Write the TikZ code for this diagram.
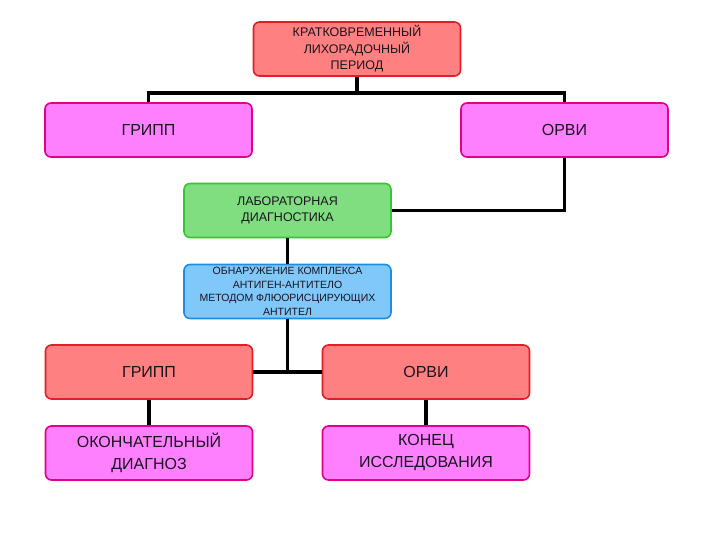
\documentclass[tikz,border=0pt]{standalone}
\usepackage{fontspec}
\setmainfont{Liberation Sans}
\usetikzlibrary{positioning}
\definecolor{salmon}{RGB}{255,128,128}
\definecolor{scarlet}{RGB}{225,30,40}
\definecolor{orchid}{RGB}{255,128,255}
\definecolor{rose}{RGB}{225,0,135}
\definecolor{mint}{RGB}{128,222,128}
\definecolor{grass}{RGB}{50,200,50}
\definecolor{sky}{RGB}{128,200,250}
\definecolor{azure}{RGB}{30,140,225}
\definecolor{ink}{RGB}{25,20,30}
\tikzset{
  box/.style={draw=#1,line width=1.6pt,rounded corners=6pt,
    minimum width=207pt,minimum height=54pt,align=center,text=ink,inner sep=2pt},
  redbox/.style={box=scarlet,fill=salmon},
  pinkbox/.style={box=rose,fill=orchid},
  greenbox/.style={box=grass,fill=mint},
  bluebox/.style={box=azure,fill=sky},
  big/.style={font=\fontsize{16}{22}\selectfont},
  mid/.style={font=\fontsize{12.5}{16.5}\selectfont},
  small/.style={font=\fontsize{10.5}{13.5}\selectfont},
  link/.style={line width=3.2pt,black},
}

\begin{document}
\begin{tikzpicture}[x=1pt,y=-1pt]
  \useasboundingbox (0,0) rectangle (720,540);
  \coordinate (split) at (357,93);
  \coordinate (join) at (287.5,372);
  \node[redbox,mid] (period) at (357,49) {КРАТКОВРЕМЕННЫЙ\\ЛИХОРАДОЧНЫЙ\\ПЕРИОД};
  \node[pinkbox,big] (flu) at (148.5,130) {ГРИПП};
  \node[pinkbox,big] (arvi) at (564.5,130) {ОРВИ};
  \node[greenbox,mid] (lab) at (287.5,210.5) {ЛАБОРАТОРНАЯ\\ДИАГНОСТИКА};
  \node[bluebox,small] (ifa) at (287.5,291.5) {ОБНАРУЖЕНИЕ КОМПЛЕКСА\\АНТИГЕН-АНТИТЕЛО\\МЕТОДОМ ФЛЮОРИСЦИРУЮЩИХ\\АНТИТЕЛ};
  \node[redbox,big] (flutest) at (149,372) {ГРИПП};
  \node[redbox,big] (arvitest) at (426,372) {ОРВИ};
  \node[pinkbox,big] (final) at (149,453) {ОКОНЧАТЕЛЬНЫЙ\\ДИАГНОЗ};
  \node[pinkbox,big] (stop) at (426,453) {КОНЕЦ\\ИССЛЕДОВАНИЯ};
  % connectors
  \draw[link] (period.south) -- (split);
  \draw[link] (flu.north) |- (split) -| (arvi.north);
  \draw[link] (arvi.south) |- (lab.east);
  \draw[link] (lab.south) -- (ifa.north);
  \draw[link] (ifa.south) -- (join);
  \draw[link] (flutest.east) -- (arvitest.west);
  \draw[link] (flutest.south) -- (final.north);
  \draw[link] (arvitest.south) -- (stop.north);
\end{tikzpicture}
\end{document}
